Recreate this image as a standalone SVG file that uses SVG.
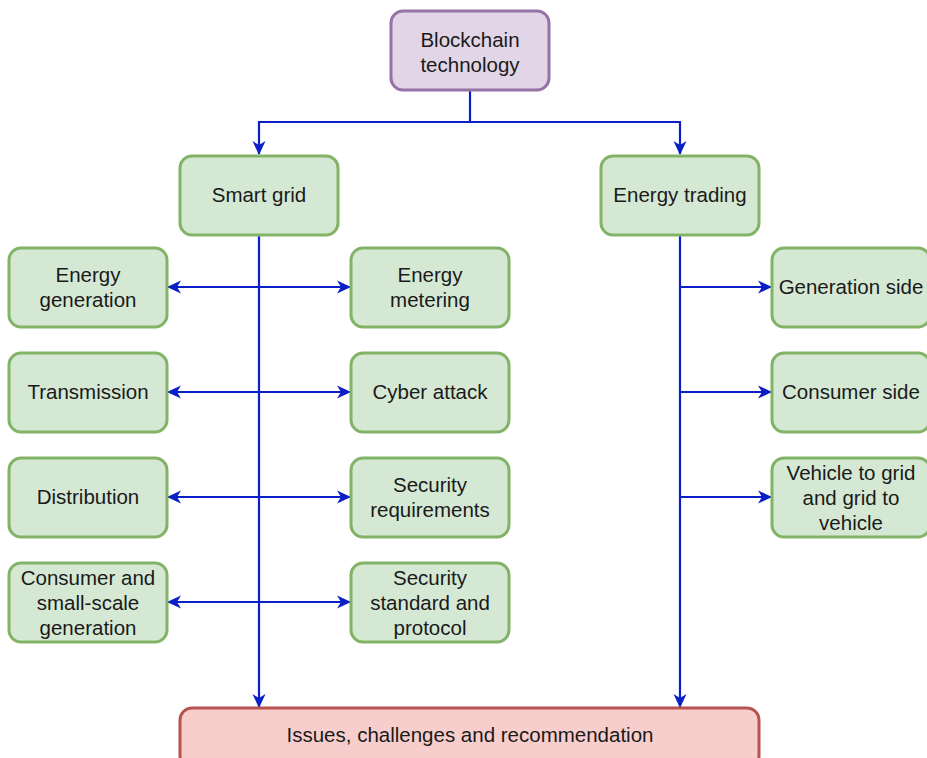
<svg xmlns="http://www.w3.org/2000/svg" width="927" height="758" viewBox="0 0 927 758">
<defs>
<style>
.n rect{stroke-width:3}
.g rect{fill:#d5e8d4;stroke:#82b366}
.p rect{fill:#e1d5e7;stroke:#9673a6}
.r rect{fill:#f8cecc;stroke:#b85450}
text{font-family:"Liberation Sans",Arial,sans-serif;font-size:20.5px;fill:#1a1a1a;text-anchor:middle}
.c path{fill:none;stroke:#0a1fc8;stroke-width:2.2}
</style>
<marker id="a" viewBox="0 0 14 14" refX="13" refY="7" markerWidth="14" markerHeight="14" markerUnits="userSpaceOnUse" orient="auto-start-reverse">
<path d="M0,0.5 L14,7 L0,13.5 L4,7 Z" fill="#0a1fc8"/>
</marker>
</defs>
<rect width="927" height="758" fill="#fff"/>
<g class="c">
<path d="M470,90 V122 H259 V154" marker-end="url(#a)"/>
<path d="M470,122 H680 V154" marker-end="url(#a)"/>
<path d="M259,235 V707" marker-end="url(#a)"/>
<path d="M680,235 V707" marker-end="url(#a)"/>
<path d="M168,287 H350" marker-start="url(#a)" marker-end="url(#a)"/>
<path d="M168,392 H350" marker-start="url(#a)" marker-end="url(#a)"/>
<path d="M168,497 H350" marker-start="url(#a)" marker-end="url(#a)"/>
<path d="M168,602 H350" marker-start="url(#a)" marker-end="url(#a)"/>
<path d="M680,287 H771" marker-end="url(#a)"/>
<path d="M680,392 H771" marker-end="url(#a)"/>
<path d="M680,497 H771" marker-end="url(#a)"/>
</g>
<g id="blockchain" class="n p"><rect x="391" y="11" width="158" height="79" rx="12"/><text x="470" y="47">Blockchain</text><text x="470" y="72">technology</text></g>
<g id="smartgrid" class="n g"><rect x="180" y="156" width="158" height="79" rx="12"/><text x="259" y="202">Smart grid</text></g>
<g id="energytrading" class="n g"><rect x="601" y="156" width="158" height="79" rx="12"/><text x="680" y="202">Energy trading</text></g>
<g id="energygen" class="n g"><rect x="9" y="248" width="158" height="79" rx="12"/><text x="88" y="282">Energy</text><text x="88" y="307">generation</text></g>
<g id="transmission" class="n g"><rect x="9" y="353" width="158" height="79" rx="12"/><text x="88" y="399">Transmission</text></g>
<g id="distribution" class="n g"><rect x="9" y="458" width="158" height="79" rx="12"/><text x="88" y="504">Distribution</text></g>
<g id="consumer" class="n g"><rect x="9" y="563" width="158" height="79" rx="12"/><text x="88" y="585">Consumer and</text><text x="88" y="610">small-scale</text><text x="88" y="635">generation</text></g>
<g id="metering" class="n g"><rect x="351" y="248" width="158" height="79" rx="12"/><text x="430" y="282">Energy</text><text x="430" y="307">metering</text></g>
<g id="cyber" class="n g"><rect x="351" y="353" width="158" height="79" rx="12"/><text x="430" y="399">Cyber attack</text></g>
<g id="secreq" class="n g"><rect x="351" y="458" width="158" height="79" rx="12"/><text x="430" y="492">Security</text><text x="430" y="517">requirements</text></g>
<g id="secstd" class="n g"><rect x="351" y="563" width="158" height="79" rx="12"/><text x="430" y="585">Security</text><text x="430" y="610">standard and</text><text x="430" y="635">protocol</text></g>
<g id="genside" class="n g"><rect x="772" y="248" width="158" height="79" rx="12"/><text x="851" y="294">Generation side</text></g>
<g id="consside" class="n g"><rect x="772" y="353" width="158" height="79" rx="12"/><text x="851" y="399">Consumer side</text></g>
<g id="v2g" class="n g"><rect x="772" y="458" width="158" height="79" rx="12"/><text x="851" y="480">Vehicle to grid</text><text x="851" y="505">and grid to</text><text x="851" y="530">vehicle</text></g>
<g id="issues" class="n r"><rect x="180" y="708" width="579" height="60" rx="12"/><text x="470" y="742">Issues, challenges and recommendation</text></g>
</svg>
